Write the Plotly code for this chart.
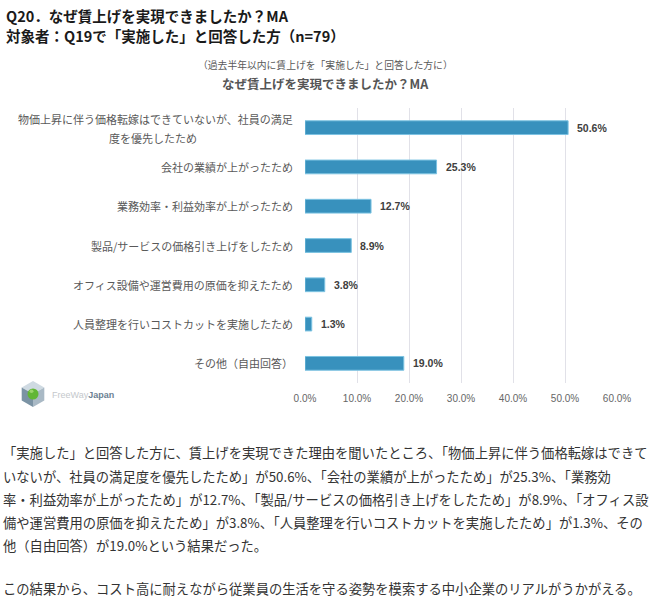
import plotly.graph_objects as go

categories = [
    "物価上昇に伴う価格転嫁はできていないが、社員の満足度を優先したため",
    "会社の業績が上がったため",
    "業務効率・利益効率が上がったため",
    "製品/サービスの価格引き上げをしたため",
    "オフィス設備や運営費用の原価を抑えたため",
    "人員整理を行いコストカットを実施したため",
    "その他（自由回答）",
]
values = [50.6, 25.3, 12.7, 8.9, 3.8, 1.3, 19.0]
tick_vals = [0, 10, 20, 30, 40, 50, 60]
tick_text = ["0.0%", "10.0%", "20.0%", "30.0%", "40.0%", "50.0%", "60.0%"]

header_lines = [
    "Q20．なぜ賃上げを実現できましたか？MA",
    "対象者：Q19で「実施した」と回答した方（n=79）",
]
chart_subtitle = "（過去半年以内に賃上げを「実施した」と回答した方に）"
chart_title = "なぜ賃上げを実現できましたか？MA"
body_lines = [
    "「実施した」と回答した方に、賃上げを実現できた理由を聞いたところ、「物価上昇に伴う価格転嫁はできて",
    "いないが、社員の満足度を優先したため」が50.6%、「会社の業績が上がったため」が25.3%、「業務効",
    "率・利益効率が上がったため」が12.7%、「製品/サービスの価格引き上げをしたため」が8.9%、「オフィス設",
    "備や運営費用の原価を抑えたため」が3.8%、「人員整理を行いコストカットを実施したため」が1.3%、その",
    "他（自由回答）が19.0%という結果だった。",
    "",
    "この結果から、コスト高に耐えながら従業員の生活を守る姿勢を模索する中小企業のリアルがうかがえる。",
]
body_y = [452, 476, 499, 522, 545, None, 588]

W, H = 650, 600
L, R, T, B = 305, 617, 108, 383
JP = "Noto Sans CJK JP"


def px(x):
    return (x - L) / (R - L)


def py(y):
    return (B - y) / (B - T)


fig = go.Figure()
fig.add_trace(go.Bar(
    x=values, y=categories, orientation="h",
    marker=dict(color="#3891bd", line=dict(color="#7cc3e2", width=1)),
    width=0.35, hoverinfo="skip",
))

ann = []
# category labels
for i, c in enumerate(categories):
    if i == 0:
        ann.append(dict(x=0, xref="x", y=c, yref="y", xanchor="right", xshift=-10, yshift=9,
                        text="物価上昇に伴う価格転嫁はできていないが、社員の満足", showarrow=False,
                        font=dict(family=JP, size=11, color="#595959")))
        ann.append(dict(x=px(153), xref="paper", y=c, yref="y", xanchor="center", yshift=-10,
                        text="度を優先したため", showarrow=False,
                        font=dict(family=JP, size=11, color="#595959")))
    else:
        ann.append(dict(x=0, xref="x", y=c, yref="y", xanchor="right", xshift=-10,
                        text=c, showarrow=False,
                        font=dict(family=JP, size=11, color="#595959")))
# value labels
for c, v in zip(categories, values):
    ann.append(dict(x=v, xref="x", y=c, yref="y", xanchor="left", xshift=7,
                    text=f"<b>{v:.1f}%</b>", showarrow=False,
                    font=dict(family="Liberation Sans", size=10.5, color="#404040")))
# headers
ann.append(dict(x=px(4), xref="paper", y=py(15), yref="paper", xanchor="left", yanchor="middle",
                text=f"<b>{header_lines[0]}</b>", showarrow=False,
                font=dict(family=JP, size=14.5, color="#1a1a1a")))
ann.append(dict(x=px(4), xref="paper", y=py(35), yref="paper", xanchor="left", yanchor="middle",
                text=f"<b>{header_lines[1]}</b>", showarrow=False,
                font=dict(family=JP, size=14.5, color="#1a1a1a")))
ann.append(dict(x=px(325), xref="paper", y=py(65), yref="paper", xanchor="center", yanchor="middle",
                text=chart_subtitle, showarrow=False,
                font=dict(family=JP, size=9.8, color="#595959")))
ann.append(dict(x=px(325), xref="paper", y=py(83), yref="paper", xanchor="center", yanchor="middle",
                text=f"<b>{chart_title}</b>", showarrow=False,
                font=dict(family=JP, size=12.5, color="#555555")))
# logo text
ann.append(dict(x=px(50), xref="paper", y=py(395), yref="paper", xanchor="left", yanchor="middle",
                text='<span style="color:#c4c8cc">FreeWay</span><b><span style="color:#6b7f92">Japan</span></b>',
                showarrow=False, font=dict(family="Liberation Sans", size=9)))
# body text
for t, yy in zip(body_lines, body_y):
    if yy is None or not t:
        continue
    ann.append(dict(x=px(1), xref="paper", y=py(yy), yref="paper", xanchor="left", yanchor="middle",
                    text=t, showarrow=False,
                    font=dict(family=JP, size=13.3, color="#333333")))


def path(points):
    return "M " + " L ".join(f"{px(a)},{py(b)}" for a, b in points) + " Z"


shapes = [
    dict(type="path", xref="paper", yref="paper", line=dict(width=0), fillcolor="#cfdae2",
         path=path([(33, 381), (44.3, 387.5), (33, 394), (21.7, 387.5)])),
    dict(type="path", xref="paper", yref="paper", line=dict(width=0), fillcolor="#7b93a4",
         path=path([(21.7, 387.5), (33, 394), (33, 407), (21.7, 400.5)])),
    dict(type="path", xref="paper", yref="paper", line=dict(width=0), fillcolor="#a9b9c5",
         path=path([(44.3, 387.5), (44.3, 400.5), (33, 407), (33, 394)])),
    dict(type="circle", xref="paper", yref="paper", line=dict(width=0), fillcolor="#62b635",
         x0=px(27.5), x1=px(38.5), y0=py(399.5), y1=py(388.5)),
    dict(type="circle", xref="paper", yref="paper", line=dict(width=0), fillcolor="#9ad46a",
         x0=px(29.5), x1=px(33.5), y0=py(393), y1=py(389.5)),
]

fig.update_layout(
    width=W, height=H,
    margin=dict(l=L, r=W - R, t=T, b=H - B, pad=0),
    paper_bgcolor="white", plot_bgcolor="white",
    showlegend=False,
    annotations=ann, shapes=shapes,
    xaxis=dict(range=[0, 60], tickmode="array", tickvals=tick_vals, ticktext=tick_text,
               showgrid=True, gridcolor="#e1e1e8", gridwidth=1, zeroline=False,
               showline=False, ticks="", ticklabelstandoff=8,
               tickfont=dict(family="Liberation Sans", size=10, color="#666666"),
               fixedrange=True),
    yaxis=dict(type="category", categoryorder="array", categoryarray=categories,
               range=[6.5, -0.5], showticklabels=False, showgrid=False,
               zeroline=False, showline=False, ticks="", fixedrange=True),
)

fig.write_html("out.html")
